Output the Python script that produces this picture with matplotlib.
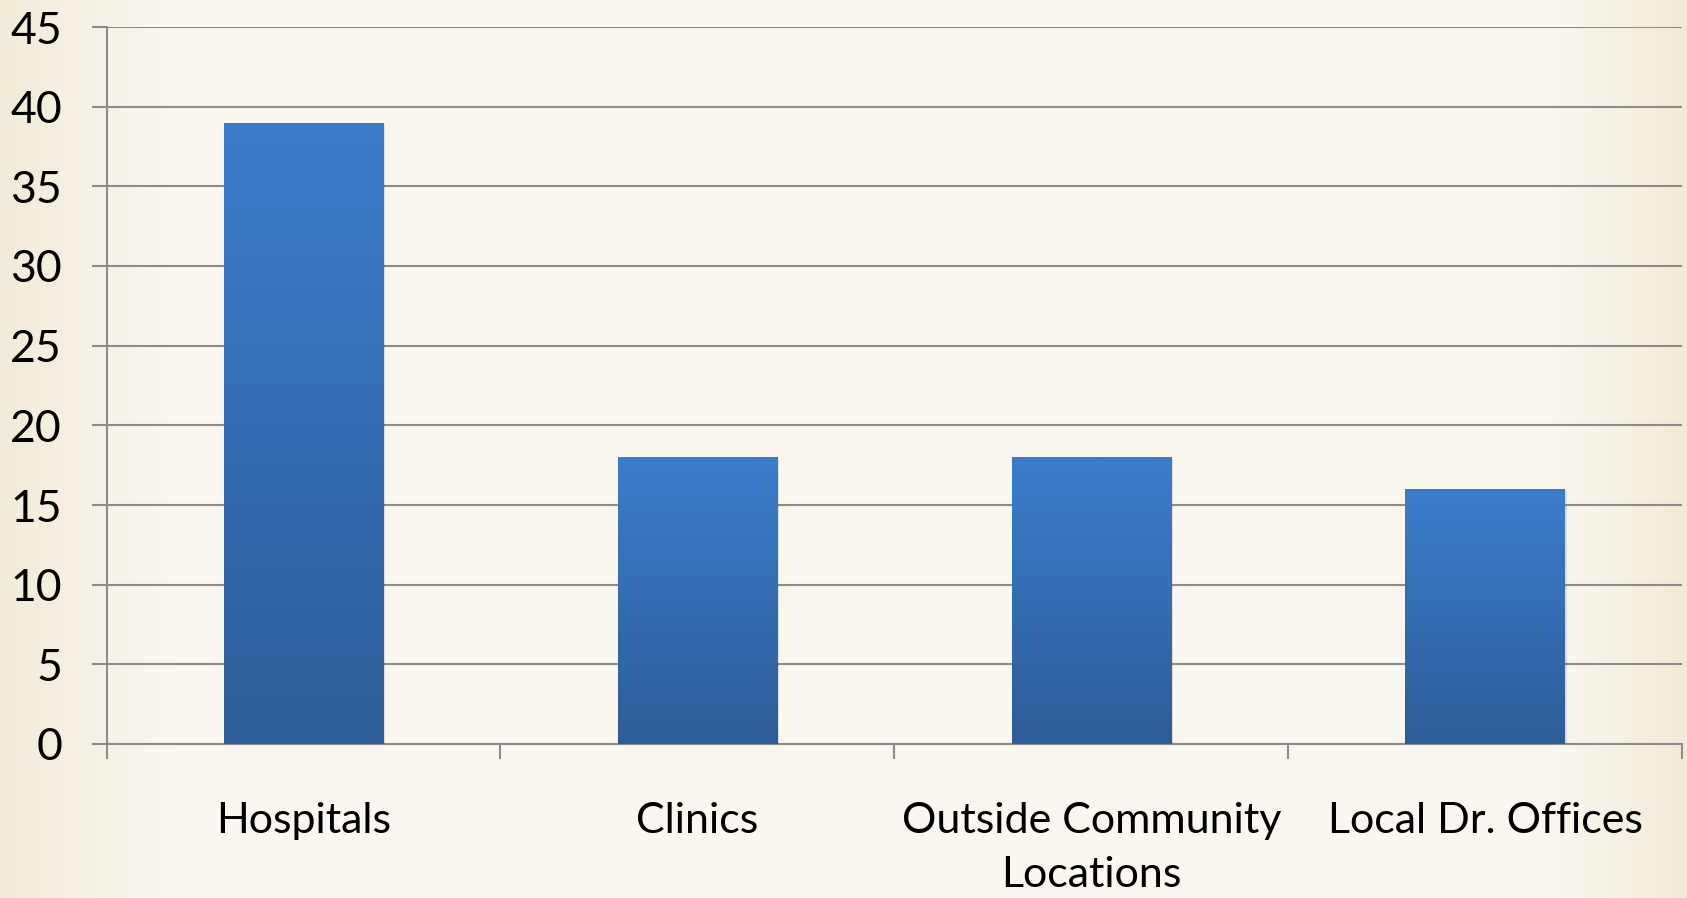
import numpy as np
import matplotlib
matplotlib.use("Agg")
import matplotlib.pyplot as plt
from matplotlib.colors import LinearSegmentedColormap, to_rgb

categories = ["Hospitals", "Clinics", "Outside Community\nLocations", "Local Dr. Offices"]
values = [39, 18, 18, 16]
y_ticks = [0, 5, 10, 15, 20, 25, 30, 35, 40, 45]

W, H, DPI = 1687, 898, 100
fig = plt.figure(figsize=(W / DPI, H / DPI), dpi=DPI)

# Cream slide background, warmer toward the left and right edges
bg = fig.add_axes([0, 0, 1, 1], zorder=-10)
bg.set_axis_off()
xs = np.linspace(0, 1, 400)
edge = np.array(to_rgb("#f2ead7"))
mid = np.array(to_rgb("#faf7f0"))
w = np.clip(np.minimum(xs / 0.10, (1 - xs) / 0.08), 0, 1) ** 0.8
row = edge[None, :] * (1 - w[:, None]) + mid[None, :] * w[:, None]
bg.imshow(row[None, :, :], aspect="auto", extent=[0, 1, 0, 1])
bg.set_xlim(0, 1)
bg.set_ylim(0, 1)

ax = fig.add_axes([106.5 / W, 1 - 744 / H, (1682 - 106.5) / W, (744 - 27) / H])
ax.set_facecolor("none")

x = np.arange(len(categories))
bars = ax.bar(x, values, width=0.404, color="none", edgecolor="none", zorder=3)

# Vertical blue gradient inside each bar, plus a faint drop shadow
grad = LinearSegmentedColormap.from_list("barblue", ["#2d5c98", "#3b7dcb"])
g = np.linspace(0, 1, 256)[:, None]
for b in bars:
    x0, w_, h_ = b.get_x(), b.get_width(), b.get_height()
    sh = plt.Rectangle((x0 + 0.006, -0.12), w_, h_, facecolor="#000000",
                       alpha=0.10, edgecolor="none", zorder=2)
    ax.add_patch(sh)
    im = ax.imshow(g, cmap=grad, origin="lower", aspect="auto",
                   extent=[x0, x0 + w_, 0, h_], zorder=3)
    im.set_clip_path(b)

ax.set_xlim(-0.5, len(categories) - 0.5)
ax.set_ylim(0, 45)
ax.set_yticks(y_ticks)
ax.set_xticks(np.arange(len(categories) + 1) - 0.5, minor=False)
ax.set_xticklabels([])
ax.set_xticks(x, minor=True)
ax.set_xticklabels(categories, minor=True)

font = "Lato"
ax.tick_params(axis="y", which="major", length=11, width=1.5, color="#8c8c8c",
               pad=21, labelsize=32, labelcolor="black")
ax.tick_params(axis="x", which="major", length=11, width=1.5, color="#8c8c8c")
ax.tick_params(axis="x", which="minor", length=0, pad=42, labelsize=31,
               labelcolor="black")
for lab in ax.get_yticklabels() + ax.get_xticklabels(minor=True):
    lab.set_family(font)
for lab in ax.get_xticklabels(minor=True):
    lab.set_linespacing(1.5)

ax.grid(axis="y", color="#8c8c8c", linewidth=1.5, zorder=1)
ax.set_axisbelow(True)
for s in ["top", "right"]:
    ax.spines[s].set_visible(False)
for s in ["left", "bottom"]:
    ax.spines[s].set_color("#8c8c8c")
    ax.spines[s].set_linewidth(1.5)
    ax.spines[s].set_zorder(1)

fig.savefig("out.png", dpi=DPI)
